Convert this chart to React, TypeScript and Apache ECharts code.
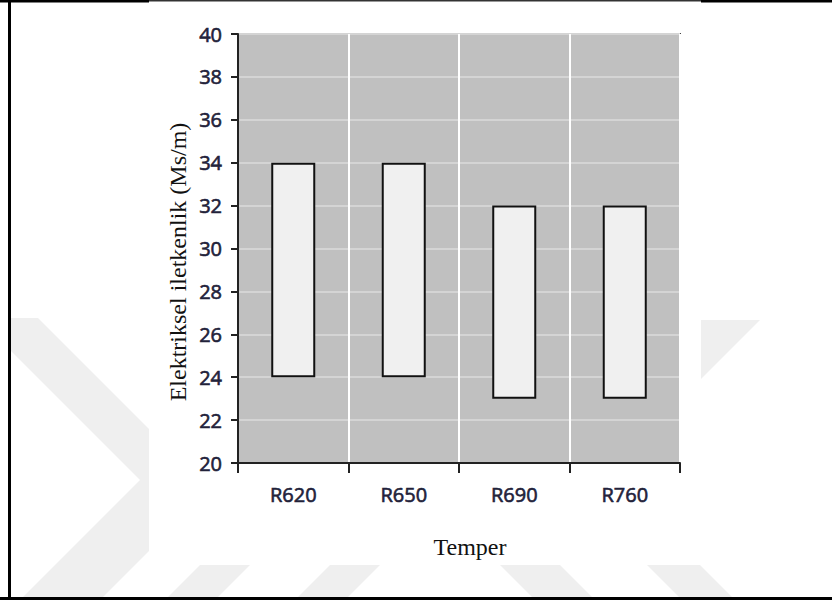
import React, { useEffect, useRef } from "react";
import * as echarts from "echarts";

const categories = ["R620", "R650", "R690", "R760"];
const lowValues = [24, 24, 23, 23];
const highValues = [34, 34, 32, 32];
const yMin = 20;
const yMax = 40;
const yStep = 2;
const yTitle = "Elektriksel iletkenlik (Ms/m)";
const xTitle = "Temper";

const WM = "#efefef";

export default function App() {
  const ref = useRef<HTMLDivElement>(null);
  useEffect(() => {
    if (!ref.current) return;
    const chart = echarts.init(ref.current, undefined, { renderer: "svg" });
    const tickFont = "'Open Sans','Noto Sans',sans-serif";
    const labelColor = "#22223a";
    const wmPoly = (pts: number[][]) => ({
      type: "polygon",
      z: -10,
      silent: true,
      shape: { points: pts },
      style: { fill: WM },
    });
    const line = (x1: number, y1: number, x2: number, y2: number, w: number, c = "#000") => ({
      type: "line",
      z: 100,
      silent: true,
      shape: { x1, y1, x2, y2 },
      style: { stroke: c, lineWidth: w },
    });
    chart.setOption({
      animation: false,
      backgroundColor: "#ffffff",
      grid: {
        left: 238,
        right: 152,
        top: 34,
        bottom: 137,
        show: true,
        backgroundColor: "#c0c0c0",
        borderColor: "#444",
        borderWidth: 2,
        containLabel: false,
      },
      xAxis: {
        type: "category",
        data: categories,
        boundaryGap: true,
        axisLine: { show: true, lineStyle: { color: "#222", width: 2 } },
        axisTick: { show: true, length: 10, alignWithLabel: false, lineStyle: { color: "#222", width: 2 } },
        axisLabel: {
          margin: 21,
          fontSize: 20,
          fontFamily: tickFont,
          color: labelColor,
          textBorderColor: labelColor,
          textBorderWidth: 0.6,
        },
        splitLine: { show: true, lineStyle: { color: "#ffffff", width: 2 } },
      },
      yAxis: {
        type: "value",
        min: yMin,
        max: yMax,
        interval: yStep,
        axisLine: { show: true, lineStyle: { color: "#222", width: 2 } },
        axisTick: { show: true, length: 7, lineStyle: { color: "#222", width: 2 } },
        axisLabel: {
          margin: 16,
          fontSize: 20,
          fontFamily: tickFont,
          color: labelColor,
          textBorderColor: labelColor,
          textBorderWidth: 0.6,
        },
        splitLine: { show: true, lineStyle: { color: "#d4d4d4", width: 2 } },
      },
      series: [
        {
          name: "base",
          type: "bar",
          stack: "range",
          data: lowValues,
          barWidth: 44,
          silent: true,
          itemStyle: { color: "rgba(0,0,0,0)" },
        },
        {
          name: "range",
          type: "bar",
          stack: "range",
          data: highValues.map((h, i) => h - lowValues[i]),
          barWidth: 44,
          itemStyle: { color: "#f0f0f0", borderColor: "#111", borderWidth: 2 },
        },
      ],
      graphic: [
        wmPoly([[10, 318], [38, 318], [210, 490], [100, 600], [10, 600]]),
        {
          type: "polygon",
          z: -9,
          silent: true,
          shape: { points: [[10, 350], [140, 480], [10, 610]] },
          style: { fill: "#ffffff" },
        },
        wmPoly([[701, 320], [760, 320], [701, 379]]),
        wmPoly([[200, 565], [250, 565], [218, 597], [168, 597]]),
        wmPoly([[330, 565], [380, 565], [348, 597], [298, 597]]),
        wmPoly([[500, 565], [560, 565], [592, 597], [532, 597]]),
        wmPoly([[647, 565], [700, 565], [732, 597], [679, 597]]),
        {
          type: "rect",
          z: -8,
          silent: true,
          shape: { x: 149, y: 0, width: 552, height: 565 },
          style: { fill: "#ffffff" },
        },
        line(9.5, 0, 9.5, 600, 3),
        line(0, 598.5, 832, 598.5, 3),
        line(0, 1.2, 149, 1.2, 2.6),
        line(701, 1.2, 832, 1.2, 2.6),
        line(149, 0.7, 701, 0.7, 1.4, "#333"),
        {
          type: "text",
          x: 178,
          y: 262,
          rotation: Math.PI / 2,
          z: 50,
          style: {
            text: yTitle,
            fontSize: 24,
            fontFamily: "'Liberation Serif','DejaVu Serif',serif",
            fill: "#111",
            align: "center",
            verticalAlign: "middle",
          },
        },
        {
          type: "text",
          x: 470,
          y: 547,
          z: 50,
          style: {
            text: xTitle,
            fontSize: 24,
            fontFamily: "'Liberation Serif','DejaVu Serif',serif",
            fill: "#111",
            align: "center",
            verticalAlign: "middle",
          },
        },
      ],
    });
    return () => chart.dispose();
  }, []);
  return (
    <div
      ref={ref}
      style={{ position: "fixed", left: 0, top: 0, width: 832, height: 600, background: "#fff" }}
    />
  );
}
